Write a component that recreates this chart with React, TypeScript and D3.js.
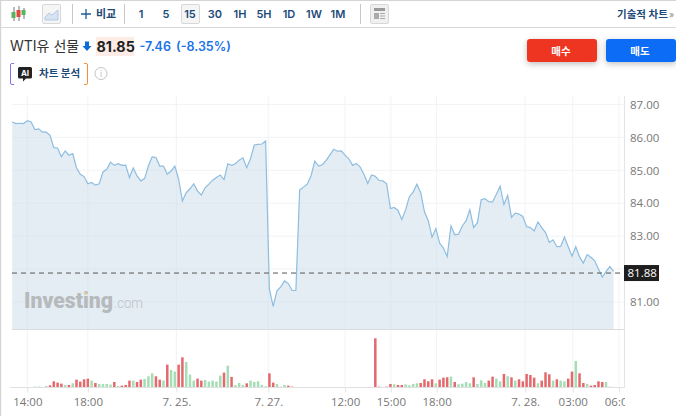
import { useRef, useLayoutEffect } from "react";
import * as d3 from "d3";

const prices = [
  86.47, 86.42, 86.43, 86.42, 86.51, 86.47, 86.24, 86.26, 86.16, 86.16, 86.06, 85.69, 85.68, 85.41, 85.59, 85.46,
  85.51, 85.08, 84.88, 84.81, 84.59, 84.63, 84.55, 84.59, 84.95, 85.03, 85.25, 85.15, 85.2, 85.15, 85.16, 84.78,
  85.07, 84.83, 84.68, 84.75, 85.13, 85.41, 85.39, 85.13, 85.13, 84.88, 84.98,
  85.13, 84.73, 84.07, 84.32, 84.44, 84.59, 84.37, 84.25, 84.47, 84.58, 84.7, 84.78, 84.86, 84.72, 85.2, 85.15,
  85.2, 85.31, 85.38, 85.08, 85.35, 85.77, 85.79, 85.8, 85.89,
  81.39, 80.87, 81.34, 81.46, 81.64, 81.56, 81.35, 81.35, 84.4, 84.49, 84.58, 84.83, 85.28, 85.13, 85.17, 85.3,
  85.47, 85.64, 85.58,
  85.59, 85.46, 85.35, 85.15, 85.21, 85.1, 84.88, 84.6, 84.86, 84.82, 84.69, 84.68, 84.59, 83.84, 83.87, 83.78,
  83.51, 83.79, 84.2, 84.34, 84.58, 84.32, 83.74, 83.47, 82.97, 83.23, 82.79, 82.64, 82.38, 83.31, 83.04, 83.06,
  83.31, 83.47, 83.8, 83.26, 83.41, 84.11, 84.14, 84.05, 84.04, 84.27, 84.52, 83.96, 84.24,
  83.57, 83.7, 83.67, 83.6, 83.29, 83.26, 83.16, 83.43, 83.26, 83.11, 82.81, 82.89, 82.68, 82.69, 82.97, 82.68,
  82.39, 82.68, 82.37, 82.18, 82.44, 82.36, 82.25, 82.0, 81.76, 81.92, 82.08, 81.93,
];

const volumes = [
  0, 0, 0, 0, 0, 0, 2, 2, 1, 4, 6, 18, 14, 11, 7, 7, 12, 23, 17, 24, 26, 20, 13, 10, 10, 10, 8, 16, 4, 5, 7, 20,
  20, 16, 23, 25, 33, 42, 33, 23, 20, 68, 52, 47, 68, 90, 76, 38, 20, 26, 20, 22, 17, 20, 17, 35, 44, 65, 31, 7,
  13, 7, 12, 20, 16, 18, 7, 3, 42, 14, 10, 2, 7, 5, 2, 0, 0, 0, 0, 0, 0, 0, 0, 0, 0, 0, 0, 0, 0, 0, 0, 0, 0, 0, 0,
  0, 147, 2, 1, 2, 10, 9, 7, 7, 9, 6, 10, 12, 13, 24, 18, 24, 12, 23, 29, 30, 32, 16, 9, 11, 16, 12, 30, 10, 21,
  13, 20, 32, 26, 18, 40, 33, 30, 20, 24, 18, 40, 37, 29, 12, 20, 45, 39, 20, 24, 20, 18, 26, 47, 79, 42, 13, 10,
  5, 7, 18, 16, 16, 2, 0,
];

// bars that closed down, the rest are green
const downBars = new Set([
  8, 10, 11, 12, 13, 15, 17, 18, 19, 20, 22, 27, 29, 30, 31, 33, 34, 38, 39, 41, 44, 45, 49, 50, 56, 58, 62, 68, 69,
  73, 74, 96, 97, 98, 99, 100, 102, 103, 108, 109, 110, 111, 113, 114, 115, 117, 122, 126, 127, 130, 132, 134, 135,
  136, 137, 138, 140, 141, 142, 144, 147, 148, 150, 151, 153, 154, 155, 156,
]);

const priceTicks = [87, 86, 85, 84, 83, 81];
const gridPrices = [87, 86, 85, 84, 83, 82, 81];
const lastPrice = 81.88;

const timeTicks = [4, 20, 43.4, 67.7, 88, 100.1, 112.2, 135.6, 148.2, 160.4];
const timeLabels = ["14:00", "18:00", "7. 25.", "7. 27.", "12:00", "15:00", "18:00", "7. 28.", "03:00", "06:00"];

const intervals = ["1", "5", "15", "30", "1H", "5H", "1D", "1W", "1M"];
const intervalCenters = [141, 166, 190, 215, 240, 264, 289, 314, 338];

const KR = '"Inter", "Noto Sans CJK KR", sans-serif';
const AXIS = '"Open Sans", "Noto Sans", sans-serif';

export default function App() {
  const priceAxisRef = useRef<SVGGElement>(null);
  const timeAxisRef = useRef<SVGGElement>(null);

  const x = d3.scaleLinear().domain([0, 159]).range([12.2, 613.6]);
  const y = d3.scaleLinear().domain([81, 87]).range([302, 104.5]);
  const v = d3.scaleLinear().domain([0, 147]).range([387.3, 338.3]);
  const bottom = 329.5;

  const line = d3
    .line<number>()
    .x((_, i) => x(i))
    .y(d => y(d));
  const area = d3
    .area<number>()
    .x((_, i) => x(i))
    .y0(bottom)
    .y1(d => y(d));

  useLayoutEffect(() => {
    const priceAxis = d3
      .axisRight(y)
      .tickValues(priceTicks)
      .tickSize(0)
      .tickPadding(6)
      .tickFormat(d => (d as number).toFixed(2));
    d3.select(priceAxisRef.current!).call(priceAxis).call(g => g.select(".domain").remove());

    const timeAxis = d3
      .axisBottom(x)
      .tickValues(timeTicks)
      .tickSize(5)
      .tickPadding(5)
      .tickFormat((_, i) => timeLabels[i]);
    d3.select(timeAxisRef.current!).call(timeAxis).call(g => g.select(".domain").remove());
    d3.select(timeAxisRef.current!).selectAll("line").attr("stroke", "#e4e4e4");
    d3.select(priceAxisRef.current!).selectAll("text").attr("fill", "#777").attr("font-size", 11.5).attr("font-family", AXIS);
    d3.select(timeAxisRef.current!).selectAll("text").attr("fill", "#777").attr("font-size", 11.5).attr("font-family", AXIS);
  }, []);

  return (
    <svg
      width={676}
      height={416}
      style={{ position: "absolute", left: 0, top: 0, display: "block", background: "#fff" }}
    >
      <defs>
        <filter id="btnShadow" x="-20%" y="-30%" width="140%" height="180%">
          <feDropShadow dx="0" dy="2" stdDeviation="3" floodOpacity="0.25" />
        </filter>
        <clipPath id="plotClip">
          <rect x={0} y={0} width={625} height={416} />
        </clipPath>
      </defs>

      {/* frame */}
      <rect x={0} y={0} width={1.2} height={416} fill="#d4d4d4" />
      <rect x={0} y={0} width={676} height={1} fill="#d4d4d4" />
      <rect x={0} y={27} width={676} height={1} fill="#d8d8d8" />

      {/* toolbar */}
      <g stroke="#777" strokeWidth={1}>
        <line x1={14} x2={14} y1={7} y2={21} />
        <line x1={19} x2={19} y1={6} y2={21} />
        <line x1={24} x2={24} y1={8} y2={19} />
      </g>
      <rect x={11.5} y={12} width={4} height={6} fill="#57b45a" />
      <rect x={16.5} y={10} width={4} height={7} fill="#e2463f" />
      <rect x={21.5} y={10} width={4} height={5} fill="#57b45a" />
      <rect x={42.5} y={4.5} width={18} height={19} rx={1.5} fill="#f5f5f5" stroke="#d8d8d8" />
      <path d="M45 17 L49 13 L52 15 L58 10 V20 H45 Z" fill="#d5e3f2" stroke="#a9c3e0" strokeWidth={0.8} />
      <rect x={72} y={4} width={1} height={20} fill="#c8c8c8" />
      <path d="M86 9 V19 M81 14 H91" stroke="#1b5d9c" strokeWidth={1.3} />
      <text x={96} y={17.5} fontSize={11} fontWeight={700} fill="#1c4a78" fontFamily={KR}>
        비교
      </text>
      <rect x={124} y={4} width={1} height={20} fill="#c8c8c8" />
      <rect x={181.5} y={4.5} width={18} height={19} rx={1.5} fill="#f5f5f5" stroke="#d8d8d8" />
      {intervals.map((t, i) => (
        <text
          key={t}
          x={intervalCenters[i]}
          y={18}
          textAnchor="middle"
          fontSize={11}
          fontWeight={600}
          fill="#1c4a78"
          fontFamily={KR}
        >
          {t}
        </text>
      ))}
      <rect x={360} y={4} width={1} height={20} fill="#c8c8c8" />
      <rect x={370.5} y={4.5} width={18} height={19} rx={1.5} fill="#f0f0f0" stroke="#d8d8d8" />
      <rect x={374} y={8} width={11} height={3} fill="#999" />
      <rect x={374} y={13} width={5} height={6} fill="#aaa" />
      <path d="M380 13.5 H385 M380 16 H385 M380 18.5 H385" stroke="#aaa" />
      <text x={617} y={17.5} fontSize={10.5} fontWeight={700} fill="#1c4a78" fontFamily={KR}>
        기술적 차트
      </text>
      <text x={669} y={17.5} fontSize={9} fill="#888" fontFamily={KR}>
        »
      </text>

      {/* quote */}
      <text x={10} y={50.5} fontSize={14} fill="#333" fontFamily={KR}>
        WTI유 선물
      </text>
      <path d="M85 41.5 H89 V46 H91.5 L87 51 L82.5 46 H85 Z" fill="#0a6cd8" />
      <rect x={96} y={37} width={38} height={19} fill="#fdece6" />
      <text x={96.5} y={51.5} fontSize={14.3} fontWeight={700} fill="#222" fontFamily={KR}>
        81.85
      </text>
      <text x={139.5} y={50.5} fontSize={12.5} fontWeight={600} fill="#1a73e8" fontFamily={KR}>
        -7.46
      </text>
      <text x={176} y={50.5} fontSize={12.5} fontWeight={600} fill="#1a73e8" fontFamily={KR}>
        (-8.35%)
      </text>

      <path d="M14 63.5 H11.5 Q10.5 63.5 10.5 65 V83 Q10.5 84.5 12 84.5 H14" fill="none" stroke="#8b6cf0" />
      <path d="M84 63.5 H86.5 Q87.5 63.5 87.5 65 V83 Q87.5 84.5 86 84.5 H84" fill="none" stroke="#f0913a" />
      <path d="M19.5 67 H30.5 Q32 67 32 68.5 V77 Q32 78.5 30.5 78.5 H26 L23 81.5 V78.5 H19.5 Q18 78.5 18 77 V68.5 Q18 67 19.5 67 Z" fill="#222" />
      <text x={25} y={76} textAnchor="middle" fontSize={8} fontWeight={700} fill="#fff" fontFamily={KR}>
        AI
      </text>
      <text x={39} y={77} fontSize={10.5} fontWeight={700} fill="#1c4a78" fontFamily={KR}>
        차트 분석
      </text>
      <circle cx={101} cy={73.5} r={6} fill="none" stroke="#c4c4c4" />
      <text x={101} y={77} textAnchor="middle" fontSize={8.5} fill="#bbb" fontFamily={KR}>
        i
      </text>

      <rect x={527} y={39} width={70} height={23} rx={3} fill="#ee3524" filter="url(#btnShadow)" />
      <text x={561} y={54.5} textAnchor="middle" fontSize={10.5} fontWeight={700} fill="#fff" fontFamily={KR}>
        매수
      </text>
      <rect x={606} y={39} width={70} height={23} rx={3} fill="#0a6cf5" filter="url(#btnShadow)" />
      <text x={640} y={54.5} textAnchor="middle" fontSize={10.5} fontWeight={700} fill="#fff" fontFamily={KR}>
        매도
      </text>

      {/* grid */}
      <g stroke="#f2f3f5" strokeWidth={1}>
        {gridPrices.map(p => (
          <line key={p} x1={12} x2={624} y1={y(p)} y2={y(p)} />
        ))}
        {timeTicks.map(t => (
          <line key={t} x1={x(t)} x2={x(t)} y1={96} y2={387} />
        ))}
      </g>

      {/* price pane */}
      <path d={area(prices) ?? ""} fill="#c9dcea" fillOpacity={0.5} />
      <path d={line(prices) ?? ""} fill="none" stroke="#8dbde0" strokeWidth={1.2} />
      <line x1={12} x2={624} y1={bottom} y2={bottom} stroke="#dcdcdc" />
      <line x1={624.5} x2={624.5} y1={96} y2={388} stroke="#e2e4ea" />

      {/* watermark */}
      <text
        x={24}
        y={308}
        fontSize={21.5}
        fontWeight={900}
        fill="#b6babd"
        fontFamily="Roboto, sans-serif"
        textLength={89}
        lengthAdjust="spacingAndGlyphs"
      >
        Investing
      </text>
      <circle cx={85.5} cy={293.5} r={1.4} fill="#e8cf8a" />
      <text
        x={114}
        y={308}
        fontSize={15}
        fontWeight={300}
        fill="#bfc3c7"
        fontFamily="Roboto, sans-serif"
        textLength={29}
        lengthAdjust="spacingAndGlyphs"
      >
        .com
      </text>

      {/* last price */}
      <line x1={12} x2={624} y1={y(lastPrice)} y2={y(lastPrice)} stroke="#555" strokeDasharray="5 4" />
      <rect x={624} y={y(lastPrice) - 8} width={35} height={16} fill="#1e1e1e" />
      <g ref={priceAxisRef} transform="translate(624,0)" />
      <text x={627.5} y={y(lastPrice) + 4} fontSize={11.5} fill="#fff" fontFamily={AXIS}>
        {lastPrice.toFixed(2)}
      </text>

      {/* volume pane */}
      {volumes.map((d, i) => (
        <rect
          key={i}
          x={x(i) - 1.25}
          y={v(d)}
          width={2.5}
          height={v(0) - v(d)}
          fill={downBars.has(i) ? "#e4686c" : "#a6dcb6"}
        />
      ))}
      <line x1={10} x2={624} y1={387.5} y2={387.5} stroke="#e0e0e0" />
      <g clipPath="url(#plotClip)">
        <g ref={timeAxisRef} transform="translate(0,387.5)" />
      </g>
    </svg>
  );
}
